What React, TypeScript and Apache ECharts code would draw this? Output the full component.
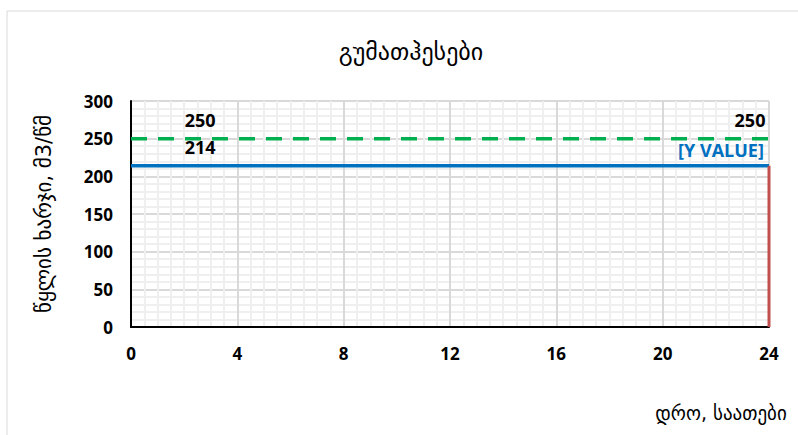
import React, { useEffect, useRef } from "react";
import * as echarts from "echarts";

const titleText = "გუმათჰესები";
const yName = "წყლის ხარჯი, მ3/წმ";
const xName = "დრო, საათები";
const hoursTicks = [0, 4, 8, 12, 16, 20, 24];
const designFlow = 250; // green dashed
const actualFlow = 214; // blue
const labelHour = 2.6;
const startHour = 0;
const endHour = 24;

const greenData = [
  { value: [startHour, designFlow] },
  { value: [labelHour, designFlow], label: { show: true } },
  { value: [endHour, designFlow], label: { show: true, offset: [-19, 0] } },
];
const blueData = [
  { value: [startHour, actualFlow] },
  { value: [labelHour, actualFlow], label: { show: true, color: "#000" } },
  {
    value: [endHour, actualFlow],
    label: { show: true, color: "#0070C0", formatter: "[Y VALUE]", offset: [-48, 3] },
  },
];
const redData = [
  [endHour, 0],
  [endHour, actualFlow],
];

export default function App() {
  const ref = useRef<HTMLDivElement>(null);
  useEffect(() => {
    const chart = echarts.init(ref.current!, null, { renderer: "svg" });
    const font = "'Open Sans', 'DejaVu Sans', sans-serif";
    const geo = "'DejaVu Sans', sans-serif";
    chart.setOption({
      animation: false,
      backgroundColor: "#fff",
      grid: { left: 131, right: 29, top: 101, bottom: 108 },
      graphic: [
        {
          type: "rect",
          shape: { x: 7, y: 11, width: 800, height: 440 },
          style: { fill: "none", stroke: "#d9d9d9", lineWidth: 1 },
          silent: true,
        },
        {
          type: "text",
          x: 411,
          y: 52,
          style: { text: titleText, font: `24px ${geo}`, fill: "#000", align: "center", verticalAlign: "middle" },
        },
        {
          type: "text",
          x: 721,
          y: 413,
          style: { text: xName, font: `19px ${geo}`, fill: "#000", align: "center", verticalAlign: "middle" },
        },
      ],
      xAxis: {
        type: "value",
        min: hoursTicks[0],
        max: hoursTicks[hoursTicks.length - 1],
        interval: 4,
        axisLine: { show: true, lineStyle: { color: "#000", width: 2 } },
        axisTick: { show: false },
        axisLabel: { fontFamily: font, fontWeight: "bold", fontSize: 17, color: "#000", margin: 18 },
        splitLine: { show: true, lineStyle: { color: "#d9d9d9", width: 2 } },
        minorTick: { show: false, splitNumber: 8 },
        minorSplitLine: { show: true, lineStyle: { color: "#efefef", width: 2 } },
      },
      yAxis: {
        type: "value",
        min: 0,
        max: 300,
        interval: 50,
        name: yName,
        nameLocation: "middle",
        nameGap: 77,
        nameRotate: 90,
        nameTextStyle: { fontFamily: geo, fontSize: 21, color: "#000" },
        axisLine: { show: true, lineStyle: { color: "#000", width: 2 } },
        axisTick: { show: false },
        axisLabel: { fontFamily: font, fontWeight: "bold", fontSize: 17, color: "#000", margin: 18 },
        splitLine: { show: true, lineStyle: { color: "#d9d9d9", width: 2 } },
        minorTick: { show: false, splitNumber: 5 },
        minorSplitLine: { show: true, lineStyle: { color: "#efefef", width: 2 } },
      },
      series: [
        {
          type: "line",
          data: greenData,
          symbol: "circle",
          symbolSize: 0,
          showSymbol: true,
          lineStyle: { color: "#00B050", width: 3.5, type: [16, 11] },
          itemStyle: { color: "#00B050" },
          label: {
            show: false,
            position: "top",
            distance: 10,
            formatter: (p: any) => String(p.value[1]),
            fontFamily: font,
            fontWeight: "bold",
            fontSize: 18,
            color: "#000",
          },
          z: 3,
        },
        {
          type: "line",
          data: blueData,
          symbol: "circle",
          symbolSize: 0,
          showSymbol: true,
          lineStyle: { color: "#0070C0", width: 3.5 },
          itemStyle: { color: "#0070C0" },
          label: {
            show: false,
            position: "top",
            distance: 10,
            formatter: (p: any) => String(p.value[1]),
            fontFamily: font,
            fontWeight: "bold",
            fontSize: 18,
            color: "#000",
          },
          z: 4,
        },
        {
          type: "line",
          data: redData,
          symbol: "none",
          lineStyle: { color: "#C0504D", width: 3 },
          itemStyle: { color: "#C0504D" },
          z: 5,
        },
      ],
    });
    return () => chart.dispose();
  }, []);
  return (
    <div
      ref={ref}
      style={{ position: "absolute", left: 0, top: 0, width: 798, height: 435 }}
    />
  );
}
